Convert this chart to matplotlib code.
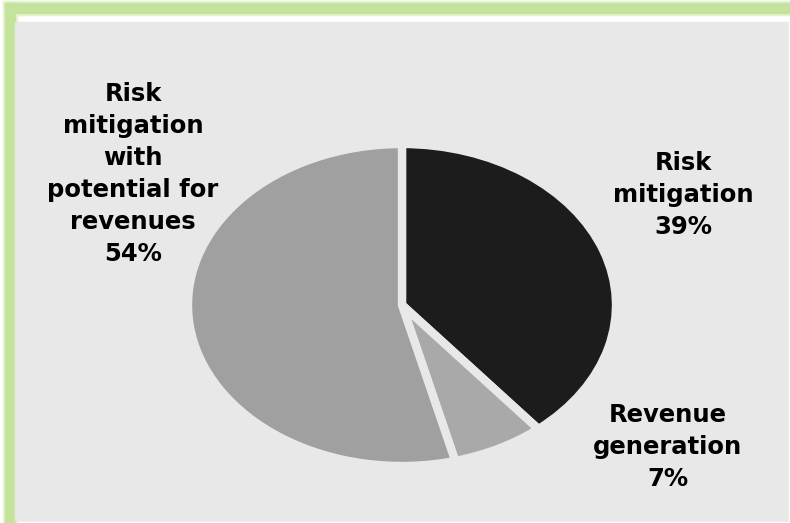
import matplotlib.pyplot as plt
from matplotlib.patches import Rectangle

# slice data, clockwise from 12 o'clock
labels = ["Risk\nmitigation", "Revenue\ngeneration", "Risk\nmitigation\nwith\npotential for\nrevenues"]
shares = [39, 7, 54]
colors = ["#1c1c1c", "#a9a9a9", "#a0a0a0"]

W, H = 790, 523
fig = plt.figure(figsize=(W / 100, H / 100), dpi=100)
fig.patch.set_facecolor("white")

def px(x, y):
    # pixel coords (top-left origin) -> figure fraction
    return x / W, 1 - y / H

def box(x0, y0, x1, y1, color, z=-5):
    fig.patches.append(Rectangle((x0 / W, 1 - y1 / H), (x1 - x0) / W, (y1 - y0) / H,
                                 transform=fig.transFigure, color=color, zorder=z))

# soft green frame and grey panel
box(3, 1, 790, 15, "#e4f3d2", -6)
box(3, 1, 17, 523, "#e4f3d2", -6)
box(5, 3, 790, 13, "#c4e49e")
box(5, 3, 15, 523, "#c4e49e")
box(15, 22, 788, 521, "#f0f0f0", -6)
box(15, 22, 787, 520, "#e8e8e8")

# pie axes stretched to an ellipse
cx, cy, rx, ry = 402, 305, 214, 161
ax = fig.add_axes([(cx - rx) / W, 1 - (cy + ry) / H, 2 * rx / W, 2 * ry / H])
ax.set_zorder(2)
ax.pie(shares, colors=colors, startangle=90, counterclock=False,
       wedgeprops=dict(edgecolor="#e8e8e8", linewidth=6))
ax.set_aspect("auto")
ax.set_xlim(-1, 1)
ax.set_ylim(-1, 1)
ax.axis("off")

# labels
label_pos = [(683, 195), (668, 447), (133, 174)]
for lab, v, (x, y) in zip(labels, shares, label_pos):
    fx, fy = px(x, y)
    fig.text(fx, fy, f"{lab}\n{v}%", ha="center", va="center", fontsize=17.5,
             fontweight="heavy", linespacing=1.42, color="black", zorder=3)

fig.savefig("out.png", dpi=100)
